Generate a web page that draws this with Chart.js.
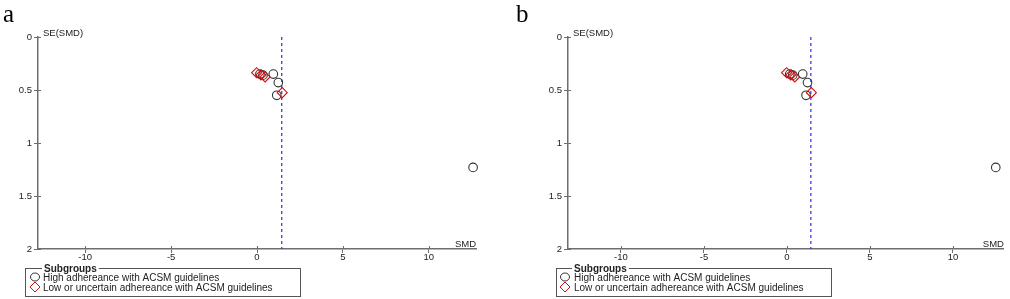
<!DOCTYPE html>
<html>
<head>
<meta charset="utf-8">
<script src="https://cdn.jsdelivr.net/npm/chart.js@4.4.1/dist/chart.umd.min.js"></script>
<style>
  html, body { margin: 0; padding: 0; background: #fff; }
  #wrap { position: relative; width: 1010px; height: 299px; overflow: hidden; }
  .panel { position: absolute; top: 0; width: 505px; height: 299px; }
  .lab { position: absolute; top: 0px; font-family: "Liberation Serif", "DejaVu Serif", serif; font-size: 25px; color: #000; }
</style>
</head>
<body>
<div id="wrap">
  <div class="panel" style="left:0"><canvas id="ca" width="505" height="299"></canvas></div>
  <div class="panel" style="left:505px"><canvas id="cb" width="505" height="299"></canvas></div>
  <div class="lab" style="left:3px">a</div>
  <div class="lab" style="left:516px">b</div>
</div>
<script>
// ---- data ----
const highSMD = [0.17, 0.35, 0.95, 1.24, 1.15, 12.58];
const highSE  = [0.35, 0.36, 0.35, 0.43, 0.55, 1.23];
const lowSMD  = [-0.02, 0.23, 0.47, 1.47];
const lowSE   = [0.337, 0.358, 0.377, 0.525];
const pooledSMD = 1.44;
const seRange = [0, 2];
const xTickStep = 5;
const yTickStep = 0.5;
const legendTitle = "Subgroups";
const highLabel = "High adhereance with ACSM guidelines";
const lowLabel = "Low or uncertain adhereance with ACSM guidelines";
const xTitle = "SMD";
const yTitle = "SE(SMD)";

const FONT = "'Liberation Sans', Arial, sans-serif";
const AXIS_COL = "#6e6e6e";

function pts(xs, ys) { return xs.map((x, i) => ({ x: x, y: ys[i] })); }

const extrasPlugin = {
  id: 'extras',
  afterDraw(chart, args, o) {
    const ctx = chart.ctx, ca = chart.chartArea;
    const xs = chart.scales.x, ys = chart.scales.y;
    ctx.save();
    // inner tick stubs (ticks cross the axis)
    ctx.strokeStyle = AXIS_COL; ctx.lineWidth = 1;
    ys.ticks.forEach(t => {
      const py = Math.round(ys.getPixelForValue(t.value)) + 0.5;
      ctx.beginPath(); ctx.moveTo(ca.left, py); ctx.lineTo(ca.left + 3, py); ctx.stroke();
    });
    xs.ticks.forEach(t => {
      const px = Math.round(xs.getPixelForValue(t.value)) + 0.5;
      ctx.beginPath(); ctx.moveTo(px, ca.bottom); ctx.lineTo(px, ca.bottom - 3); ctx.stroke();
    });
    // axis titles
    ctx.fillStyle = "#222";
    ctx.font = "9.5px " + FONT;
    ctx.textBaseline = "middle";
    ctx.textAlign = "left";
    ctx.fillText(yTitle, ca.left + 5, ca.top - 4);
    ctx.textAlign = "right";
    ctx.fillText(xTitle, ca.right, ca.bottom - 5);
    // legend box
    const L = o.box;
    ctx.strokeStyle = "#555"; ctx.lineWidth = 1;
    ctx.strokeRect(L.left + 0.5, L.top + 0.5, L.width, L.height);
    ctx.font = "bold 10px " + FONT;
    ctx.textAlign = "left";
    const tw = ctx.measureText(legendTitle).width;
    ctx.fillStyle = "#fff";
    ctx.fillRect(L.titleX - 2, L.top - 4, tw + 4, 9);
    ctx.fillStyle = "#222";
    ctx.fillText(legendTitle, L.titleX, L.top + 1);
    const dsH = chart.data.datasets[0], dsL = chart.data.datasets[1];
    ctx.font = "10px " + FONT;
    // circle marker
    ctx.strokeStyle = dsH.borderColor; ctx.lineWidth = 1;
    ctx.beginPath(); ctx.ellipse(L.markX, L.top + 9, 4.5, 4, 0, 0, Math.PI * 2); ctx.stroke();
    ctx.fillStyle = "#222";
    ctx.fillText(dsH.label, L.textX, L.top + 10);
    // diamond marker
    ctx.strokeStyle = dsL.borderColor;
    const dy = L.top + 19;
    ctx.beginPath();
    ctx.moveTo(L.markX, dy - 5); ctx.lineTo(L.markX + 5, dy); ctx.lineTo(L.markX, dy + 5); ctx.lineTo(L.markX - 5, dy); ctx.closePath();
    ctx.stroke();
    ctx.fillText(dsL.label, L.textX, dy + 1);
    ctx.restore();
  }
};

function makeChart(id, cfg) {
  return new Chart(document.getElementById(id), {
    type: 'scatter',
    data: {
      datasets: [
        { label: highLabel, data: pts(highSMD, highSE), pointStyle: 'circle', pointRadius: 4.3, clip: false,
          borderColor: '#333333', backgroundColor: 'rgba(0,0,0,0)', borderWidth: 1.1, pointHoverRadius: 4.3, order: 1 },
        { label: lowLabel, data: pts(lowSMD, lowSE), pointStyle: 'rectRot', pointRadius: 5, clip: false,
          borderColor: '#d01010', backgroundColor: 'rgba(0,0,0,0)', borderWidth: 1.1, pointHoverRadius: 5, order: 0 },
        { label: 'pooled', type: 'line', data: [{ x: pooledSMD, y: seRange[0] }, { x: pooledSMD, y: seRange[1] }],
          borderColor: '#2f2fe0', backgroundColor: '#2f2fe0', borderWidth: 1.2, borderDash: [3, 3], pointRadius: 0, order: 2 }
      ]
    },
    options: {
      responsive: false, animation: false,
      layout: { padding: { left: 0, top: cfg.top, right: cfg.padRight, bottom: 0 } },
      plugins: { legend: { display: false }, tooltip: { enabled: false }, extras: { box: cfg.box } },
      scales: {
        x: {
          type: 'linear', min: cfg.xMin, max: cfg.xMax,
          grid: { display: true, drawOnChartArea: false, drawTicks: true, tickLength: 4, color: AXIS_COL },
          border: { display: true, color: AXIS_COL, width: 1.5 },
          ticks: { stepSize: xTickStep, includeBounds: false, autoSkip: false, maxRotation: 0,
                   padding: -1, color: '#222', font: { family: FONT, size: 9.5 } },
          afterFit(s) { s.height = cfg.xAxisH; }
        },
        y: {
          type: 'linear', reverse: true, min: seRange[0], max: seRange[1],
          grid: { display: true, drawOnChartArea: false, drawTicks: true, tickLength: 4, color: AXIS_COL },
          border: { display: true, color: AXIS_COL, width: 1.5 },
          ticks: { stepSize: yTickStep, includeBounds: false, padding: 2, color: '#222', font: { family: FONT, size: 9.5 },
                   callback: v => String(v) },
          afterFit(s) { s.width = cfg.yAxisW; }
        }
      }
    },
    plugins: [extrasPlugin]
  });
}

makeChart('ca', { xMin: -12.75, xMax: 12.75, top: 37, padRight: 29, yAxisW: 38, xAxisH: 50,
  box: { left: 25, top: 268, width: 275, height: 28, titleX: 44, markX: 35, textX: 43 } });
makeChart('cb', { xMin: -13.19, xMax: 13.07, top: 37, padRight: 3, yAxisW: 63, xAxisH: 50,
  box: { left: 51, top: 268, width: 275, height: 28, titleX: 69, markX: 60, textX: 69 } });
</script>
</body>
</html>
